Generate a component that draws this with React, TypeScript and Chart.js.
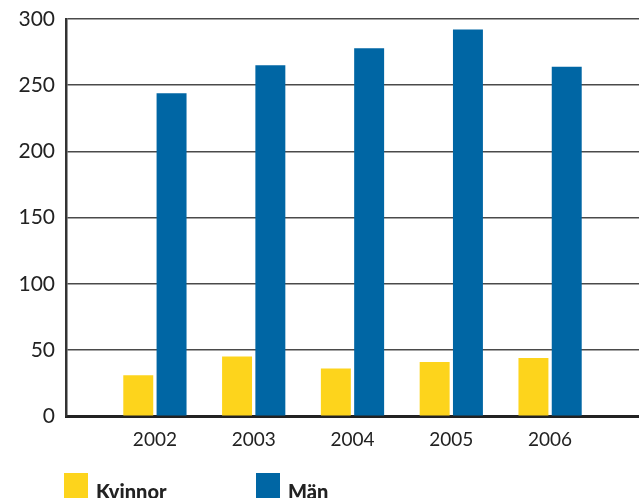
import React, { useEffect, useRef } from "react";
import { Chart, registerables } from "chart.js";

Chart.register(...registerables);

const years = [2002, 2003, 2004, 2005, 2006];
const kvinnor = [31, 45, 36, 41, 44];
const man = [244, 265, 278, 292, 264];
const yTicks = [0, 50, 100, 150, 200, 250, 300];
const seriesNames = ["Kvinnor", "Män"];
const seriesColors = ["#FDD41C", "#0066A4"];

export default function App() {
  const ref = useRef<HTMLCanvasElement | null>(null);

  useEffect(() => {
    document.body.style.margin = "0";
    const ctx = ref.current!;
    const chart = new Chart(ctx, {
      type: "bar",
      data: {
        datasets: [
          {
            label: seriesNames[0],
            data: years.map((y, i) => ({ x: y, y: kvinnor[i] })),
            backgroundColor: seriesColors[0],
            categoryPercentage: 0.674,
            barPercentage: 0.9,
          },
          {
            label: seriesNames[1],
            data: years.map((y, i) => ({ x: y, y: man[i] })),
            backgroundColor: seriesColors[1],
            categoryPercentage: 0.674,
            barPercentage: 0.9,
          },
        ],
      },
      options: {
        animation: false,
        responsive: false,
        maintainAspectRatio: false,
        layout: { padding: { top: 19, right: 0, bottom: 35, left: 0 } },
        plugins: {
          legend: { display: false },
          tooltip: { enabled: false },
        },
        scales: {
          x: {
            type: "linear",
            offset: false,
            min: 2001.1,
            max: 2006.9,
            afterBuildTicks: (scale: any) => {
              scale.ticks = years.map((v) => ({ value: v }));
            },
            afterFit: (scale: any) => {
              scale.paddingLeft = 0;
              scale.paddingRight = 0;
            },
            grid: { display: false, drawTicks: false, offset: false },
            border: { display: true, color: "#222", width: 3 },
            ticks: {
              autoSkip: false,
              maxRotation: 0,
              padding: 12,
              color: "#222",
              font: { family: "Lato", size: 19 },
              callback: (v: any) => String(v),
            },
          },
          y: {
            min: 0,
            max: 300,
            afterBuildTicks: (scale: any) => {
              scale.ticks = yTicks.map((v) => ({ value: v }));
            },
            afterFit: (scale: any) => {
              scale.width = 66;
              scale.paddingTop = 0;
              scale.paddingBottom = 0;
            },
            grid: { color: "#4a4a4a", lineWidth: 1.6, drawTicks: false },
            border: { display: true, color: "#333", width: 2.5 },
            ticks: {
              padding: 11,
              color: "#222",
              font: { family: "Lato", size: 21 },
            },
          },
        },
      },
    });
    return () => chart.destroy();
  }, []);

  const legendItem = (i: number, left: number) => (
    <div
      style={{
        position: "absolute",
        left,
        top: 473,
        display: "flex",
        alignItems: "center",
        fontFamily: "Lato",
        fontWeight: 900,
        fontSize: 20,
        color: "#222",
      }}
    >
      <span
        style={{
          display: "inline-block",
          width: 24,
          height: 25,
          background: seriesColors[i],
          marginRight: 8,
        }}
      />
      <span style={{ position: "relative", top: 5 }}>{seriesNames[i]}</span>
    </div>
  );

  return (
    <div style={{ position: "relative", width: 639, height: 498, overflow: "hidden", background: "#fff" }}>
      <canvas ref={ref} width={639} height={498} style={{ position: "absolute", left: 0, top: 0 }} />
      {legendItem(0, 64)}
      {legendItem(1, 256)}
    </div>
  );
}
